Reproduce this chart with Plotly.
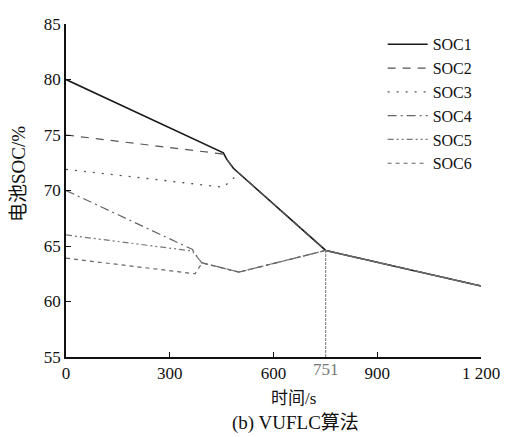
import plotly.graph_objects as go

# time (s) / SOC (%)
soc1_t = [0, 455, 465, 484, 751, 1200]
soc1_v = [80.0, 73.4, 72.8, 72.0, 64.6, 61.4]

soc2_t = [0, 450, 465, 484, 751, 1200]
soc2_v = [75.0, 73.3, 72.8, 72.0, 64.6, 61.4]

soc3_t = [0, 455, 500, 751, 1200]
soc3_v = [71.9, 70.3, 71.55, 64.6, 61.4]

soc4_t = [0, 365, 392, 500, 751, 1200]
soc4_v = [70.0, 64.7, 63.5, 62.65, 64.6, 61.4]

soc5_t = [0, 365, 392, 500, 751, 1200]
soc5_v = [66.0, 64.55, 63.5, 62.65, 64.6, 61.4]

soc6_t = [0, 373, 388, 396, 500, 751, 1200]
soc6_v = [63.9, 62.5, 63.2, 63.45, 62.65, 64.6, 61.4]

marker_t = [751, 751]
marker_v = [55, 64.6]

x_ticks = [0, 300, 600, 900, 1200]
x_ticktext = ["0", "300", "600", "900", "1 200"]
y_ticks = [55, 60, 65, 70, 75, 80, 85]

series = [
    ("SOC1", soc1_t, soc1_v, "#1a1a1a", 1.6, "solid"),
    ("SOC2", soc2_t, soc2_v, "#555555", 1.2, "8px,7px"),
    ("SOC3", soc3_t, soc3_v, "#555555", 1.3, "2px,7px"),
    ("SOC4", soc4_t, soc4_v, "#666666", 1.2, "9px,4px,2px,4px"),
    ("SOC5", soc5_t, soc5_v, "#777777", 1.2, "6px,3px,2px,3px,2px,3px"),
    ("SOC6", soc6_t, soc6_v, "#666666", 1.2, "4px,4px"),
]

SERIF = "'Times New Roman', 'Liberation Serif', 'Noto Sans CJK SC', serif"

fig = go.Figure()
for name, t, v, col, w, dash in series:
    fig.add_trace(go.Scatter(x=t, y=v, mode="lines", name=name,
                             line=dict(color=col, width=w, dash=dash)))

fig.add_trace(go.Scatter(x=marker_t, y=marker_v, mode="lines", showlegend=False,
                         line=dict(color="#777777", width=1, dash="3px,1px")))

fig.update_layout(
    width=506, height=437,
    margin=dict(l=66, r=25, t=24, b=80),
    paper_bgcolor="white", plot_bgcolor="white",
    font=dict(family=SERIF, size=16, color="#111111"),
    showlegend=True,
    legend=dict(x=0.763, y=0.99, xanchor="left", yanchor="top",
                bgcolor="rgba(0,0,0,0)", borderwidth=0,
                font=dict(family=SERIF, size=16, color="#111111"),
                itemwidth=40, tracegroupgap=0),
    xaxis=dict(range=[0, 1200], tickvals=x_ticks, ticktext=x_ticktext,
               showgrid=False, zeroline=False, showline=True, automargin=False,
               linecolor="#111111", linewidth=1.5,
               ticks="inside", ticklen=5, tickcolor="#111111",
               tickfont=dict(family=SERIF, size=17)),
    yaxis=dict(range=[55, 85], tickvals=y_ticks,
               showgrid=False, zeroline=False, showline=True, automargin=False,
               linecolor="#111111", linewidth=1.5,
               ticks="inside", ticklen=5, tickcolor="#111111",
               tickfont=dict(family=SERIF, size=17)),
)

fig.add_annotation(x=751, y=0, xref="x", yref="paper", yanchor="top",
                   yshift=-1, text="751", showarrow=False,
                   font=dict(family=SERIF, size=17, color="#777777"))

# axis titles
fig.add_annotation(x=293, y=398, xref="paper", yref="paper", text="时间/s",
                   showarrow=False, font=dict(family=SERIF, size=17))
fig.add_annotation(x=18, y=174, text="电池SOC/%", textangle=-90, showarrow=False,
                   font=dict(family=SERIF, size=19))
# caption
fig.add_annotation(x=295, y=423, text="(b) VUFLC算法", showarrow=False,
                   font=dict(family=SERIF, size=19))

# convert pixel-placed annotations to paper coords
W, H = 506, 437
L, R, T, B = 66, 25, 24, 80
pw, ph = W - L - R, H - T - B
for ann in fig.layout.annotations[1:]:
    px, py = ann.x, ann.y
    ann.update(xref="paper", yref="paper",
               x=(px - L) / pw, y=1 - (py - T) / ph,
               xanchor="center", yanchor="middle")

fig.write_html("out.html")
